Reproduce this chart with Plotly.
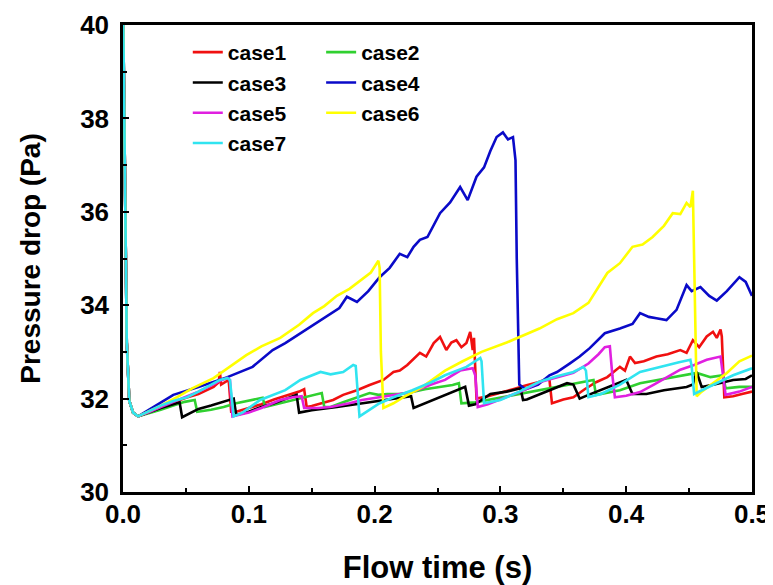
import plotly.graph_objects as go

# ---------------- data ----------------
start_t = [0, 0.0015, 0.003, 0.005, 0.008, 0.012]
start_p = [40.6, 36.5, 33.2, 31.95, 31.7, 31.62]

case1_t = start_t + [0.02, 0.03, 0.04, 0.05, 0.06, 0.067, 0.072, 0.076, 0.077, 0.078, 0.082, 0.084, 0.086, 0.09, 0.1, 0.11, 0.12, 0.13, 0.14, 0.144, 0.146, 0.15, 0.16, 0.167, 0.175, 0.186, 0.196, 0.207, 0.215, 0.22, 0.226, 0.231, 0.236, 0.241, 0.247, 0.252, 0.257, 0.261, 0.265, 0.269, 0.273, 0.276, 0.278, 0.279, 0.281, 0.29, 0.3, 0.31, 0.32, 0.33, 0.337, 0.339, 0.341, 0.35, 0.358, 0.367, 0.376, 0.385, 0.395, 0.399, 0.403, 0.407, 0.414, 0.424, 0.433, 0.443, 0.448, 0.453, 0.458, 0.464, 0.469, 0.472, 0.475, 0.476, 0.478, 0.485, 0.492, 0.5]
case1_p = start_p + [31.7, 31.82, 31.92, 32.02, 32.1, 32.18, 32.25, 32.35, 32.57, 32.3, 32.38, 32.4, 31.72, 31.72, 31.8, 31.88, 31.98, 32.06, 32.15, 32.2, 31.82, 31.84, 31.92, 31.97, 32.08, 32.18, 32.29, 32.4, 32.57, 32.6, 32.72, 32.85, 32.98, 32.9, 33.19, 33.32, 33.04, 33.2, 33.25, 33.1, 33.19, 33.43, 33.04, 33.3, 32.0, 32.05, 32.12, 32.2, 32.28, 32.35, 32.42, 32.4, 31.9, 31.98, 32.03, 32.2, 32.35, 32.46, 32.68, 32.6, 32.9, 32.76, 32.8, 32.9, 32.95, 33.04, 32.98, 33.25, 33.1, 33.33, 33.43, 33.3, 33.48, 33.33, 32.03, 32.05, 32.1, 32.15]

case2_t = start_t + [0.02, 0.03, 0.04, 0.049, 0.057, 0.059, 0.07, 0.08, 0.09, 0.1, 0.108, 0.111, 0.113, 0.125, 0.135, 0.146, 0.152, 0.158, 0.16, 0.165, 0.175, 0.186, 0.196, 0.203, 0.21, 0.22, 0.23, 0.24, 0.252, 0.262, 0.267, 0.269, 0.28, 0.29, 0.3, 0.31, 0.32, 0.33, 0.34, 0.35, 0.36, 0.366, 0.374, 0.376, 0.385, 0.395, 0.411, 0.425, 0.437, 0.456, 0.467, 0.477, 0.479, 0.49, 0.5]
case2_p = start_p + [31.68, 31.76, 31.85, 31.93, 31.97, 31.72, 31.76, 31.82, 31.9, 31.96, 32.0, 32.02, 31.82, 31.9, 31.98, 32.05, 32.08, 32.12, 31.82, 31.82, 31.92, 32.03, 32.12, 32.08, 32.1, 32.1, 32.14, 32.2, 32.25, 32.29, 32.33, 31.9, 31.92, 31.97, 32.02, 32.07, 32.12, 32.18, 32.23, 32.28, 32.33, 32.36, 32.4, 32.08, 32.12, 32.18, 32.33, 32.4, 32.46, 32.55, 32.46, 32.5, 32.22, 32.25, 32.25]

case3_t = start_t + [0.02, 0.03, 0.04, 0.045, 0.047, 0.055, 0.06, 0.07, 0.08, 0.088, 0.09, 0.1, 0.11, 0.12, 0.13, 0.138, 0.14, 0.15, 0.17, 0.19, 0.21, 0.229, 0.231, 0.24, 0.252, 0.26, 0.268, 0.272, 0.275, 0.28, 0.292, 0.305, 0.316, 0.318, 0.321, 0.33, 0.339, 0.353, 0.358, 0.363, 0.37, 0.379, 0.39, 0.4, 0.405, 0.416, 0.43, 0.448, 0.453, 0.456, 0.46, 0.47, 0.485, 0.495, 0.5]
case3_p = start_p + [31.7, 31.8, 31.88, 31.92, 31.6, 31.72, 31.78, 31.85, 31.93, 32.0, 31.65, 31.72, 31.82, 31.9, 32.0, 32.08, 31.7, 31.75, 31.82, 31.9, 31.98, 32.05, 31.8, 31.9, 32.03, 32.12, 32.22, 32.25, 31.85, 31.88, 32.1, 32.15, 32.22, 31.97, 31.98, 32.08, 32.18, 32.33, 32.3, 32.0, 32.08, 32.18, 32.3, 32.4, 32.1, 32.1, 32.18, 32.25, 32.3, 32.57, 32.25, 32.3, 32.4, 32.42, 32.5]

case4_t = start_t + [0.02, 0.04, 0.06, 0.083, 0.103, 0.119, 0.129, 0.141, 0.157, 0.172, 0.178, 0.186, 0.195, 0.204, 0.212, 0.22, 0.226, 0.231, 0.236, 0.242, 0.252, 0.26, 0.268, 0.274, 0.281, 0.287, 0.292, 0.297, 0.302, 0.306, 0.31, 0.312, 0.313, 0.315, 0.32, 0.33, 0.339, 0.345, 0.355, 0.363, 0.371, 0.383, 0.395, 0.405, 0.411, 0.418, 0.424, 0.432, 0.44, 0.448, 0.452, 0.459, 0.466, 0.472, 0.48, 0.485, 0.49, 0.495, 0.5]
case4_p = start_p + [31.75, 32.08, 32.25, 32.46, 32.68, 33.04, 33.19, 33.4, 33.68, 33.94, 34.18, 34.07, 34.3, 34.6, 34.8, 35.1, 35.03, 35.25, 35.4, 35.46, 35.97, 36.2, 36.53, 36.25, 36.75, 36.95, 37.3, 37.6, 37.7, 37.55, 37.6, 37.1, 35.0, 32.3, 32.2, 32.3, 32.5, 32.57, 32.75, 32.9, 33.08, 33.4, 33.5, 33.6, 33.83, 33.75, 33.72, 33.68, 33.9, 34.43, 34.3, 34.39, 34.2, 34.1, 34.3, 34.45, 34.6, 34.5, 34.2]

case5_t = start_t + [0.02, 0.03, 0.04, 0.05, 0.06, 0.07, 0.077, 0.083, 0.085, 0.087, 0.1, 0.11, 0.125, 0.135, 0.142, 0.144, 0.155, 0.165, 0.18, 0.19, 0.204, 0.215, 0.23, 0.245, 0.256, 0.268, 0.278, 0.28, 0.282, 0.29, 0.305, 0.318, 0.331, 0.345, 0.358, 0.37, 0.378, 0.383, 0.387, 0.389, 0.391, 0.4, 0.411, 0.422, 0.432, 0.443, 0.454, 0.464, 0.475, 0.477, 0.479, 0.49, 0.5]
case5_p = start_p + [31.7, 31.82, 31.93, 32.03, 32.15, 32.28, 32.38, 32.44, 32.4, 31.62, 31.7, 31.8, 31.97, 32.03, 32.05, 31.8, 31.8, 31.82, 31.9, 31.97, 32.03, 32.08, 32.14, 32.3, 32.4, 32.6, 32.65, 32.5, 31.82, 31.88, 32.03, 32.17, 32.35, 32.45, 32.55, 32.75, 32.95, 33.1, 33.12, 32.5, 32.03, 32.06, 32.14, 32.3, 32.45, 32.62, 32.72, 32.83, 32.9, 32.5, 32.08, 32.15, 32.25]

case6_t = start_t + [0.02, 0.03, 0.043, 0.055, 0.072, 0.085, 0.098, 0.11, 0.125, 0.14, 0.151, 0.16, 0.17, 0.18, 0.19, 0.197, 0.203, 0.204, 0.205, 0.207, 0.215, 0.223, 0.238, 0.256, 0.27, 0.285, 0.305, 0.32, 0.331, 0.345, 0.358, 0.37, 0.385, 0.395, 0.405, 0.413, 0.421, 0.43, 0.437, 0.443, 0.448, 0.451, 0.453, 0.454, 0.456, 0.46, 0.47, 0.48, 0.49, 0.5]
case6_p = start_p + [31.72, 31.85, 32.03, 32.22, 32.44, 32.68, 32.93, 33.12, 33.3, 33.58, 33.83, 33.98, 34.2, 34.35, 34.55, 34.7, 34.95, 34.8, 33.0, 31.8, 31.9, 32.03, 32.25, 32.6, 32.8, 33.0, 33.2, 33.38, 33.5, 33.7, 33.83, 34.05, 34.69, 34.9, 35.25, 35.3, 35.46, 35.7, 35.97, 35.95, 36.19, 36.1, 36.45, 35.0, 32.05, 32.15, 32.35, 32.55, 32.8, 32.92]

case7_t = start_t + [0.02, 0.03, 0.04, 0.051, 0.06, 0.07, 0.077, 0.083, 0.085, 0.088, 0.095, 0.109, 0.12, 0.129, 0.141, 0.15, 0.157, 0.165, 0.175, 0.183, 0.185, 0.188, 0.195, 0.204, 0.215, 0.23, 0.245, 0.256, 0.273, 0.284, 0.285, 0.287, 0.3, 0.315, 0.331, 0.345, 0.358, 0.366, 0.368, 0.37, 0.38, 0.395, 0.411, 0.422, 0.432, 0.442, 0.451, 0.452, 0.454, 0.462, 0.472, 0.485, 0.5]
case7_p = start_p + [31.72, 31.85, 31.95, 32.03, 32.15, 32.3, 32.4, 32.44, 32.4, 31.62, 31.7, 31.97, 32.08, 32.18, 32.4, 32.5, 32.57, 32.52, 32.57, 32.72, 32.7, 31.62, 31.75, 31.9, 32.03, 32.18, 32.35, 32.5, 32.68, 32.87, 32.8, 31.9, 31.97, 32.15, 32.36, 32.48, 32.57, 32.68, 32.6, 32.03, 32.1, 32.3, 32.57, 32.65, 32.72, 32.78, 32.83, 32.7, 32.1, 32.2, 32.33, 32.5, 32.65]

names = ["case1", "case2", "case3", "case4", "case5", "case6", "case7"]
times = [case1_t, case2_t, case3_t, case4_t, case5_t, case6_t, case7_t]
values = [case1_p, case2_p, case3_p, case4_p, case5_p, case6_p, case7_p]
colors = ["#F01010", "#30D030", "#000000", "#0A0AC8", "#E020E0", "#FFFF00", "#30E4F0"]
legend_ids = ["legend", "legend2", "legend", "legend2", "legend", "legend2", "legend"]

x_ticks = [0.0, 0.1, 0.2, 0.3, 0.4, 0.5]
y_ticks = [30, 32, 34, 36, 38, 40]

FONT = "Liberation Sans, Arial, sans-serif"

fig = go.Figure()
for n, t, p, c, lg in zip(names, times, values, colors, legend_ids):
    fig.add_trace(go.Scatter(x=t, y=p, mode="lines", name=n,
                             line=dict(color=c, width=2.6),
                             legend=lg, legendgroup=n))

axis_common = dict(showline=True, linecolor="black", linewidth=2.5, mirror=True,
                   ticks="inside", ticklen=6, tickwidth=2, tickcolor="black",
                   showgrid=False, zeroline=False, automargin=False,
                   tickfont=dict(family=FONT, size=26, color="black", weight="bold"))

fig.update_xaxes(range=[0, 0.5], tickvals=x_ticks, ticktext=[f"{v:.1f}" for v in x_ticks],
                 minor=dict(dtick=0.05, ticks="inside", ticklen=4, tickwidth=2, tickcolor="black"),
                 ticklabelstandoff=-3,
                 title=dict(text="Flow time (s)", standoff=30,
                            font=dict(family=FONT, size=31, color="black", weight="bold")),
                 **axis_common)
fig.update_yaxes(range=[30, 40], tickvals=y_ticks, ticktext=[str(v) for v in y_ticks],
                 minor=dict(dtick=1, ticks="inside", ticklen=4, tickwidth=2, tickcolor="black"),
                 ticklabelstandoff=6,
                 title=dict(text="Pressure drop (Pa)", standoff=32,
                            font=dict(family=FONT, size=28, color="black", weight="bold")),
                 **axis_common)

legend_style = dict(bgcolor="rgba(0,0,0,0)", borderwidth=0, traceorder="grouped",
                    tracegroupgap=0, xanchor="left", yanchor="top",
                    font=dict(family=FONT, size=21, color="black", weight="bold"))
# the page body adds an 8px offset, so the figure is sized/margined to compensate
fig.update_layout(
    width=765, height=577,
    margin=dict(l=115, r=21, t=17, b=93),
    paper_bgcolor="white", plot_bgcolor="white",
    legend=dict(x=0.103, y=0.985, **legend_style),
    legend2=dict(x=0.315, y=0.985, **legend_style),
)

fig.write_html("out.html")
